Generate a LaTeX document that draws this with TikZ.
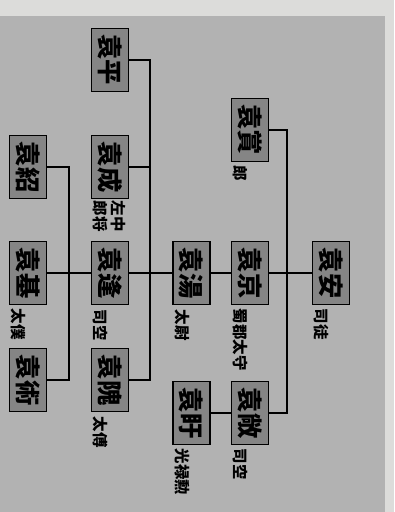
\documentclass[tikz,border=0pt]{standalone}
\usepackage{fontspec}
\newfontfamily\jpfont{Noto Sans CJK JP}
\definecolor{paperWhite}{HTML}{DCDCDA}
\definecolor{scanGray}{HTML}{B2B2B2}
\definecolor{boxGray}{HTML}{858585}
\tikzset{
  personRect/.style={rectangle, draw=black, line width=1.2pt, fill=boxGray, minimum width=9.25mm, minimum height=15.75mm, inner sep=0pt, font=\jpfont\bfseries\fontsize{18}{18}\selectfont},
  titleText/.style={rotate=-90, anchor=south west, inner sep=0pt, align=left, font=\jpfont\bfseries\fontsize{11}{13}\selectfont},
  familyLine/.style={draw=black, line width=0.9pt}
}

\begin{document}
\begin{tikzpicture}[x=0.025cm, y=-0.025cm]

\useasboundingbox (0,0) rectangle (394,512);
\fill[paperWhite] (0,0) rectangle (394,512);
\fill[scanGray] (0,16) rectangle (385,512);

% first generation
\node (anRect) [personRect] at (331,273) {\rotatebox{-90}{袁安}};
\node (anTitle) [titleText] at ([shift={(2,3)}]anRect.south west) {司徒};

% second generation
\node (shangRect) [personRect] at (250,130) {\rotatebox{-90}{袁賞}};
\node (shangTitle) [titleText] at ([shift={(2,3)}]shangRect.south west) {郎};
\node (jingRect) [personRect] at (250,273) {\rotatebox{-90}{袁京}};
\node (jingTitle) [titleText] at ([shift={(2,3)}]jingRect.south west) {蜀郡太守};
\node (changRect) [personRect] at (250,413) {\rotatebox{-90}{袁敞}};
\node (changTitle) [titleText] at ([shift={(2,3)}]changRect.south west) {司空};

% third generation
\node (tangRect) [personRect] at (191.5,273) {\rotatebox{-90}{袁湯}};
\node (tangTitle) [titleText] at ([shift={(3,4)}]tangRect.south west) {太尉};
\node (xuRect) [personRect] at (191.5,413) {\rotatebox{-90}{袁盱}};
\node (xuTitle) [titleText] at ([shift={(3,3)}]xuRect.south west) {光禄勲};

% fourth generation
\node (pingRect) [personRect] at (110,60) {\rotatebox{-90}{袁平}};
\node (chengRect) [personRect] at (110,167) {\rotatebox{-90}{袁成}};
\node (chengTitle) [titleText] at ([shift={(2,1)}]chengRect.south west) {左中\\郎将};
\node (fengRect) [personRect] at (110,273) {\rotatebox{-90}{袁逢}};
\node (fengTitle) [titleText] at ([shift={(2,4)}]fengRect.south west) {司空};
\node (weiRect) [personRect] at (110,380) {\rotatebox{-90}{袁隗}};
\node (weiTitle) [titleText] at ([shift={(2,4)}]weiRect.south west) {太傅};

% fifth generation
\node (shaoRect) [personRect] at (28,167) {\rotatebox{-90}{袁紹}};
\node (jiRect) [personRect] at (28,273) {\rotatebox{-90}{袁基}};
\node (jiTitle) [titleText] at ([shift={(2,3)}]jiRect.south west) {太僕};
\node (shuRect) [personRect] at (28,380) {\rotatebox{-90}{袁術}};

% joints
\coordinate (anJoint) at (287,273);
\coordinate (tangJoint) at (150,273);
\coordinate (fengJoint) at (69,273);

\draw[familyLine] (anRect.west) -- (jingRect.east);
\draw[familyLine] (shangRect.east) -| (anJoint) |- (changRect.east);
\draw[familyLine] (jingRect.west) -- (tangRect.east);
\draw[familyLine] (changRect.west) -- (xuRect.east);
\draw[familyLine] (tangRect.west) -- (fengRect.east);
\draw[familyLine] (pingRect.east) -| (tangJoint) |- (weiRect.east);
\draw[familyLine] (chengRect.east) -- (chengRect.east -| tangJoint);
\draw[familyLine] (fengRect.west) -- (jiRect.east);
\draw[familyLine] (shaoRect.east) -| (fengJoint) |- (shuRect.east);

\end{tikzpicture}
\end{document}
